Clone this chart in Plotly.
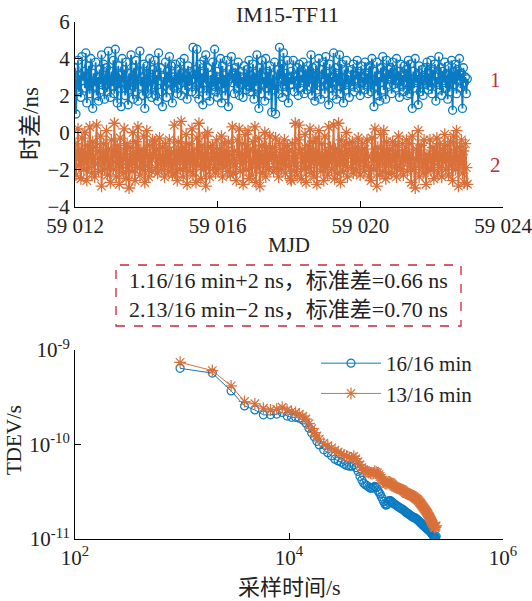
import plotly.graph_objects as go

W, H = 532, 601

# ---- time difference IM15-TF11 (ns), samples spread evenly over MJD 59012-59023
MJD_START = 59012.0
MJD_END = 59023.0

diff_16_16 = [
    3.5, 1.0, 2.6, 3.9, 2.2, 3.1, 1.9, 4.1, 2.8, 3.3, 2.4, 4.3, 1.6, 2.9, 3.6, 2.1, 4.0, 2.7, 1.3, 3.2,
    2.5, 3.8, 2.0, 3.0, 1.7, 3.4, 2.6, 4.2, 2.3, 3.7, 1.8, 2.9, 3.5, 2.2, 4.4, 2.8, 1.9, 3.3, 2.5, 3.9,
    2.1, 4.5, 3.0, 1.6, 3.6, 2.4, 3.1, 1.4, 4.0, 2.7, 3.4, 2.0, 3.8, 2.6, 1.5, 3.2, 2.3, 4.2, 2.9, 1.8,
    3.5, 2.2, 3.9, 2.8, 1.7, 3.3, 4.4, 2.5, 3.0, 2.0, 3.7, 1.3, 2.7, 3.6, 2.1, 3.2, 4.0, 2.4, 1.9, 3.4,
    2.6, 3.9, 2.0, 3.1, 1.7, 4.3, 2.8, 3.5, 2.2, 1.4, 3.0, 2.5, 3.8, 1.9, 3.3, 2.7, 4.1, 2.3, 3.6, 1.6,
    3.0, 2.4, 3.7, 2.9, 2.1, 3.4, 2.6, 3.8, 2.0, 3.2, 2.7, 4.0, 2.3, 3.1, 1.8, 3.6, 2.5, 3.3, 2.8, 2.2,
    4.6, 2.9, 3.4, 2.1, 4.5, 2.6, 1.8, 3.7, 2.4, 3.2, 1.5, 3.9, 2.7, 4.2, 2.0, 3.5, 2.8, 1.7, 3.1, 2.3,
    3.8, 2.5, 4.5, 2.2, 3.3, 1.9, 3.0, 2.6, 4.0, 1.6, 3.6, 2.4, 3.1, 2.0, 3.9, 2.7, 1.4, 3.4, 2.9, 4.1,
    2.7, 3.2, 2.1, 3.5, 2.9, 2.4, 3.8, 2.0, 3.3, 2.6, 3.0, 1.9, 3.6, 2.8, 2.3, 3.4, 2.5, 3.9, 2.2, 3.1,
    2.2, 3.7, 1.8, 3.2, 2.5, 4.2, 2.8, 1.3, 3.5, 2.1, 3.9, 2.6, 3.0, 1.7, 4.0, 2.4, 3.3, 2.0, 3.6, 2.9,
    1.1, 3.1, 2.3, 3.8, 1.0, 2.7, 3.4, 2.1, 4.6, 2.9, 3.7, 1.9, 4.3, 2.5, 3.2, 2.2, 3.9, 1.6, 3.0, 2.6,
    3.3, 2.6, 3.9, 2.2, 3.0, 2.8, 3.5, 2.0, 3.7, 2.4, 3.1, 2.7, 3.8, 2.1, 3.4, 2.9, 2.3, 3.6, 2.5, 3.2,
    4.2, 2.0, 3.5, 2.8, 1.7, 3.6, 2.3, 3.1, 4.0, 2.5, 1.8, 3.4, 2.9, 3.8, 2.1, 4.1, 2.6, 3.2, 1.5, 3.7,
    2.4, 3.0, 2.0, 4.3, 2.7, 3.5, 1.8, 3.2, 2.5, 4.2, 2.1, 3.7, 2.9, 1.6, 3.4, 2.3, 3.9, 2.6, 3.1, 1.9,
    2.8, 3.4, 2.5, 3.7, 2.2, 3.1, 2.9, 3.9, 2.4, 3.3, 2.0, 3.6, 2.7, 3.0, 2.3, 3.8, 2.6, 3.2, 2.1, 3.5,
    3.6, 2.2, 4.0, 2.8, 1.4, 3.3, 2.5, 3.8, 2.0, 3.0, 1.7, 3.5, 2.7, 4.1, 2.3, 3.2, 1.8, 3.9, 2.6, 3.4,
    2.9, 3.5, 2.1, 3.8, 2.6, 3.2, 2.4, 4.0, 2.8, 3.3, 1.9, 3.7, 2.5, 3.1, 2.2, 3.6, 2.7, 3.4, 2.0, 3.9,
    2.1, 3.7, 2.9, 1.3, 3.3, 2.4, 4.0, 2.7, 3.1, 1.5, 3.6, 2.2, 2.9, 3.4, 2.0, 2.8, 3.5, 2.6, 3.8, 2.3,
    3.2, 2.5, 3.9, 2.1, 3.4, 2.8, 3.7, 1.7, 3.0, 2.6, 4.1, 2.3, 3.5, 2.0, 3.3, 2.7, 3.8, 2.4, 3.1, 1.8,
    3.6, 2.2, 3.0, 3.9, 1.2, 3.3, 2.6, 3.7, 2.1, 3.4, 2.8, 4.0, 2.4, 3.2, 1.3, 3.5, 2.7, 3.0, 2.1, 2.9,
]

diff_13_16 = [
    -0.6, -2.3, -1.2, 0.2, -1.8, -0.9, -2.5, -0.3, -1.5, -2.0, 0.0, -1.1, -2.6, -0.7, -1.9, 0.3, -1.4, -2.2, -0.5, -1.6,
    -2.4, -0.8, 0.4, -1.7, -2.1, -1.0, -0.2, -2.9, -1.3, -0.6, -2.0, -1.5, 0.1, -2.3, -0.9, -1.8, -2.7, -0.4, -1.2, -2.0,
    0.5, -1.6, -2.4, -0.7, -1.1, -2.8, -0.3, -1.9, -1.4, -2.2, 0.2, -1.0, -2.5, -0.6, -1.7, -3.0, -0.8, -1.3, -2.1, 0.0,
    -1.5, -2.6, -0.5, -1.9, 0.3, -1.2, -2.3, -0.9, -1.6, -2.0, -0.2, -2.7, -1.1, 0.1, -1.8, -2.4, -0.7, -1.4, -2.1, -0.4,
    -1.2, -0.5, -1.9, -0.9, -2.2, -1.4, -0.3, -1.7, -2.0, -0.8, -1.3, -2.4, -0.6, -1.6, -1.0, -2.1, -0.4, -1.8, -1.1, -2.3,
    -1.7, 0.4, -2.2, -1.0, -2.6, -0.5, -1.3, -2.0, 0.6, -1.5, -2.4, -0.8, -1.9, -0.1, -2.8, -1.2, -0.6, -2.1, -1.6, 0.2,
    -2.3, -0.9, -1.4, -2.7, -0.3, -1.8, 0.5, -1.1, -2.5, -0.7, -1.6, -2.0, -0.2, -2.9, -1.3, 0.0, -1.9, -2.4, -0.8, -1.5,
    -0.7, -1.9, -1.1, -2.2, -0.4, -1.5, -2.0, -0.9, -1.7, -0.2, -2.4, -1.3, -0.6, -1.8, -1.0, -2.1, -0.5, -1.6, -2.3, -1.2,
    0.3, -2.2, -1.0, -1.7, -2.6, -0.4, -1.2, 0.2, -2.1, -1.5, -0.6, -2.8, -1.4, -0.1, -2.0, -1.1, 0.1, -2.5, -0.9, -1.8,
    -2.3, -0.5, -1.6, 0.3, -2.7, -1.0, -1.9, -0.3, -2.9, -1.3, -0.7, -2.2, -1.5, 0.0, -2.4, -0.8, -1.7, -2.0, -0.2, -1.2,
    -1.4, -0.8, -2.1, -1.1, -0.3, -1.9, -1.6, -2.4, -0.6, -1.2, -2.0, -0.9, -1.7, -0.4, -2.2, -1.3, -0.7, -1.8, -1.0, -2.5,
    -2.6, -0.6, -1.4, -2.1, 0.5, -1.8, -2.3, -0.4, 0.4, -1.1, -2.5, -0.9, -1.6, -2.0, -0.1, -2.7, -1.3, -0.7, -1.9, 0.2,
    -2.2, -1.0, -0.5, -2.4, -1.5, -0.3, -2.8, -1.2, 0.1, -1.7, -2.1, -0.6, -1.4, -2.6, -0.2, -1.9, -1.1, -2.3, 0.3, -1.6,
    -0.8, -2.0, -1.3, 0.4, -2.5, -0.9, -1.7, -2.2, 0.5, -1.0, -2.7, -0.4, -1.5, -2.1, -0.7, -1.8, 0.0, -2.4, -1.2, -0.6,
    -1.1, -1.9, -0.5, -2.2, -1.4, -0.8, -2.0, -1.2, -0.3, -1.7, -2.3, -1.0, -0.6, -1.5, -2.1, -0.9, -1.8, -0.4, -1.3, -2.4,
    -1.9, -2.6, -0.3, -1.4, -2.0, 0.2, -1.1, -2.9, -0.8, -1.6, -2.3, -0.1, -1.3, -2.1, 0.1, -1.7, -2.5, -0.5, -1.0, -2.2,
    -0.9, -1.6, -2.2, -0.5, -1.3, -1.9, -0.7, -2.4, -1.1, -0.2, -1.8, -2.0, -1.4, -0.6, -2.3, -1.0, -1.5, -0.4, -2.1, -1.2,
    -0.6, -1.8, -2.7, -0.2, -1.4, -2.0, -3.0, -0.9, -1.5, 0.1, -2.4, -1.1, -0.7, -1.9, -2.2, -0.4, -1.6, -2.8, -1.2, -2.1,
    -1.3, -0.4, -2.0, -1.7, -0.8, -2.5, -1.0, -1.5, -0.3, -2.2, -1.9, -0.6, -1.2, -2.4, -0.9, -1.6, -0.1, -2.0, -1.4, -0.7,
    -2.3, -1.1, -0.5, -1.8, -2.6, -0.2, -1.5, -2.0, 0.1, -1.3, -2.9, -0.8, -1.7, -0.4, -2.2, -1.0, -2.7, -0.6, -1.9, -2.8,
]

# ---- TDEV: averaging factor n (tau = n x 16 min) and TDEV in units of 1e-10 s
BASE_TAU_S = 960
tau_factor = (
    list(range(1, 21))
    + list(range(22, 51, 2))
    + list(range(52, 101, 2))
    + list(range(103, 248, 3))
)
tdev_16_16 = [
    6.4, 5.7, 3.69, 2.56, 2.32, 2.06, 2.06, 2.10, 2.18, 2.00, 1.94, 1.94, 1.90, 1.82, 1.68, 1.49, 1.32, 1.20, 1.08, 0.99,
    0.88, 0.82, 0.76, 0.70, 0.67, 0.65, 0.62, 0.60, 0.59, 0.59, 0.61, 0.57, 0.52, 0.46, 0.42,
    0.39, 0.375, 0.365, 0.355, 0.345, 0.345, 0.35, 0.36, 0.35, 0.33, 0.315, 0.30, 0.28, 0.265, 0.25,
    0.235, 0.228, 0.232, 0.245, 0.255, 0.255, 0.25, 0.245, 0.24, 0.235,
    0.23, 0.226, 0.22, 0.215, 0.212, 0.208, 0.205, 0.2, 0.196, 0.19,
    0.188, 0.185, 0.181, 0.178, 0.175, 0.172, 0.17, 0.168, 0.167, 0.165,
    0.162, 0.159, 0.156, 0.153, 0.15, 0.147, 0.145, 0.142, 0.139, 0.137,
    0.135, 0.133, 0.131, 0.129, 0.127, 0.126, 0.124, 0.122, 0.12, 0.118,
    0.116, 0.113, 0.111, 0.109, 0.107, 0.105, 0.104, 0.103, 0.107,
]
tdev_13_16 = [
    7.41, 6.05, 4.17, 2.85, 2.70, 2.42, 2.32, 2.36, 2.48, 2.32, 2.23, 2.18, 2.10, 2.00, 1.86, 1.66, 1.47, 1.34, 1.23, 1.14,
    1.03, 0.97, 0.92, 0.87, 0.83, 0.80, 0.77, 0.75, 0.73, 0.72, 0.75, 0.71, 0.66, 0.61, 0.57,
    0.54, 0.53, 0.52, 0.51, 0.50, 0.49, 0.50, 0.52, 0.51, 0.50, 0.48, 0.46, 0.44, 0.42, 0.40,
    0.39, 0.385, 0.39, 0.40, 0.40, 0.395, 0.39, 0.38, 0.37, 0.36,
    0.355, 0.35, 0.345, 0.34, 0.336, 0.333, 0.33, 0.32, 0.31, 0.305,
    0.302, 0.30, 0.297, 0.295, 0.29, 0.287, 0.283, 0.278, 0.272, 0.268,
    0.264, 0.26, 0.255, 0.248, 0.242, 0.236, 0.23, 0.224, 0.218, 0.212,
    0.207, 0.202, 0.197, 0.192, 0.187, 0.181, 0.175, 0.17, 0.165, 0.16,
    0.155, 0.15, 0.145, 0.141, 0.137, 0.134, 0.132, 0.134, 0.138,
]

n_pts = len(diff_16_16)
mjd = [MJD_START + (MJD_END - MJD_START) * i / (n_pts - 1) for i in range(n_pts)]
tau = [BASE_TAU_S * k for k in tau_factor]
tdev_a = [v * 1e-10 for v in tdev_16_16]
tdev_b = [v * 1e-10 for v in tdev_13_16]

BLUE = "#0a7bc2"
ORANGE = "#d9703a"
RED = "#c8283a"
FONT = "Liberation Serif, 'Noto Sans CJK SC', serif"
FS = 21


def px_x(x):
    return x / W


def px_y(y):
    return 1 - y / H


fig = go.Figure()

fig.add_trace(go.Scatter(
    x=mjd, y=diff_16_16, mode="lines+markers", showlegend=False,
    line=dict(color=BLUE, width=1.8),
    marker=dict(symbol="circle-open", size=8, color=BLUE, line=dict(width=1.3)),
    xaxis="x", yaxis="y",
))
fig.add_trace(go.Scatter(
    x=mjd, y=diff_13_16, mode="lines+markers", showlegend=False,
    line=dict(color=ORANGE, width=1.8),
    marker=dict(symbol="asterisk-open", size=10, color=ORANGE, line=dict(width=1.3, color=ORANGE)),
    xaxis="x", yaxis="y",
))

fig.add_trace(go.Scatter(
    x=tau, y=tdev_a, mode="lines+markers", name="16/16 min",
    line=dict(color=BLUE, width=1),
    marker=dict(symbol="circle-open", size=8, color=BLUE, line=dict(width=1.2)),
    xaxis="x2", yaxis="y2",
))
fig.add_trace(go.Scatter(
    x=tau, y=tdev_b, mode="lines+markers", name="13/16 min",
    line=dict(color=ORANGE, width=1),
    marker=dict(symbol="asterisk-open", size=10, color=ORANGE, line=dict(width=1.2, color=ORANGE)),
    xaxis="x2", yaxis="y2",
))

axis_common = dict(
    showline=True, linecolor="black", linewidth=1, mirror=False,
    ticks="inside", ticklen=6, tickcolor="black", tickwidth=1,
    showgrid=False, zeroline=False, automargin=False,
    ticklabeloverflow="allow",
    tickfont=dict(family=FONT, size=FS, color="#222"),
)

fig.update_layout(
    width=W, height=H,
    margin=dict(l=0, r=0, t=0, b=0, autoexpand=False),
    paper_bgcolor="white", plot_bgcolor="white",
    font=dict(family=FONT, size=FS, color="#222"),
    xaxis=dict(
        domain=[px_x(75), px_x(503)], anchor="y", range=[59012, 59024],
        tickvals=[59012, 59016, 59020, 59024],
        ticktext=["59 012", "59 016", "59 020", "59 024"],
        **axis_common,
    ),
    yaxis=dict(
        domain=[px_y(206.5), px_y(21.5)], anchor="x", range=[-4, 6],
        tickvals=[-4, -2, 0, 2, 4, 6],
        **axis_common,
    ),
    xaxis2=dict(
        type="log", domain=[px_x(75), px_x(503)], anchor="y2", range=[2, 6],
        tickvals=[1e2, 1e4, 1e6],
        ticktext=["10<sup>2</sup>", "10<sup>4</sup>", "10<sup>6</sup>"],
        **axis_common,
    ),
    yaxis2=dict(
        type="log", domain=[px_y(539), px_y(350)], anchor="x2", range=[-11, -9],
        tickvals=[1e-11, 1e-10, 1e-9],
        ticktext=["10<sup>-11</sup>", "10<sup>-10</sup>", "10<sup>-9</sup>"],
        **axis_common,
    ),
    legend=dict(
        x=px_x(316), y=px_y(343), xanchor="left", yanchor="top",
        bgcolor="rgba(0,0,0,0)", font=dict(family=FONT, size=FS, color="#222"),
        itemwidth=60, tracegroupgap=4,
    ),
)

annotations = [
    dict(text="IM15-TF11", x=px_x(287), y=px_y(15), size=22),
    dict(text="MJD", x=px_x(289), y=px_y(245), size=21),
    dict(text="时差/ns", x=px_x(30), y=px_y(124), textangle=-90, size=23),
    dict(text="TDEV/s", x=px_x(14), y=px_y(440), textangle=-90, size=21),
    dict(text="采样时间/s", x=px_x(289), y=px_y(587), size=22),
    dict(text="1", x=px_x(495), y=px_y(80), size=21, color=RED),
    dict(text="2", x=px_x(495), y=px_y(165), size=21, color=RED),
    dict(text="1.16/16 min+2 ns，标准差=0.66 ns<br>2.13/16 min\u22122 ns，标准差=0.70 ns",
         x=px_x(288), y=px_y(295), size=22),
]
for a in annotations:
    size = a.pop("size")
    color = a.pop("color", "#222")
    fig.add_annotation(xref="paper", yref="paper", showarrow=False,
                       xanchor="center", yanchor="middle",
                       font=dict(family=FONT, size=size, color=color), **a)

fig.add_shape(type="rect", xref="paper", yref="paper",
              x0=px_x(116), x1=px_x(461), y0=px_y(326), y1=px_y(265),
              line=dict(color=RED, width=1.3, dash="dash"))

fig.write_html("out.html")
